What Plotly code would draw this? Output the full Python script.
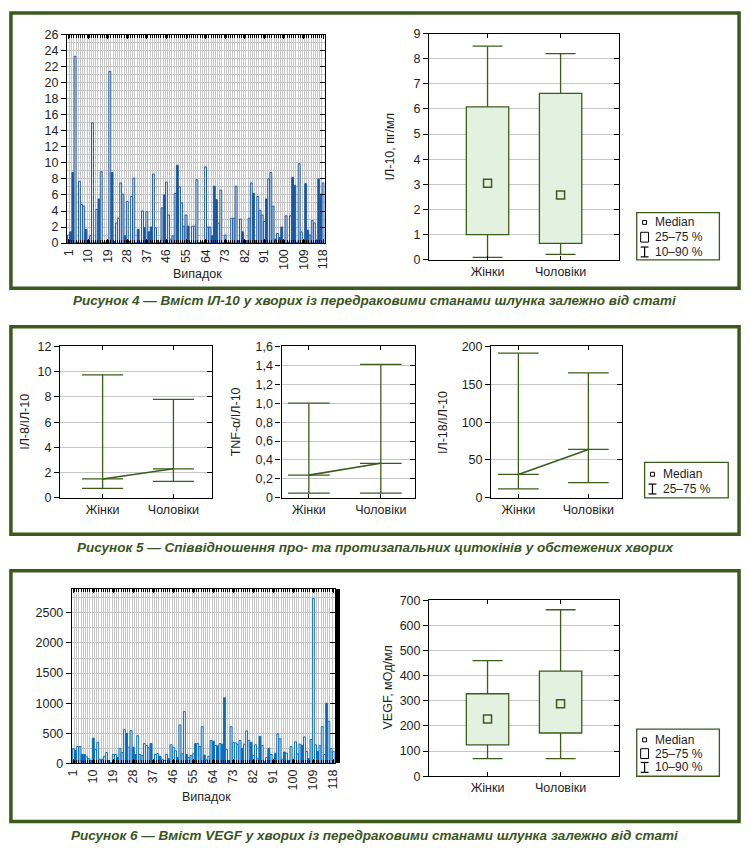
import plotly.graph_objects as go

W, H = 749, 859

# ------------------------------------------------------------------ data
case_numbers = list(range(1, 119))
case_tick_values = list(range(1, 119, 9))  # 1, 10, ..., 118

il10_values = [1.0, 1.4, 8.8, 23.3, 0.1, 7.7, 4.8, 4.6, 1.7, 0.1,
               0.9, 15.0, 0.05, 4.2, 5.5, 8.9, 0.1, 0.1, 0.1, 21.4,
               8.8, 0.2, 2.5, 3.1, 7.5, 6.1, 0.9, 5.2, 0.2, 5.8,
               8.1, 0.05, 1.7, 0.05, 4.0, 1.9, 3.9, 1.4, 2.0, 8.6,
               1.9, 0.3, 0.05, 4.4, 6.0, 7.6, 3.5, 0.5, 0.9, 6.2,
               9.7, 7.0, 5.0, 2.1, 3.5, 2.1, 0.05, 2.1, 2.1, 7.9,
               0.05, 0.15, 0.1, 9.5, 2.0, 2.0, 0.9, 7.1, 5.4, 2.5,
               6.6, 0.05, 1.0, 0.1, 0.05, 3.1, 3.1, 7.1, 0.3, 3.0,
               1.4, 0.2, 0.3, 3.1, 7.5, 6.2, 0.3, 5.8, 4.1, 3.5,
               2.7, 5.5, 8.0, 8.8, 4.6, 0.5, 1.2, 0.7, 2.0, 0.1,
               3.4, 0.1, 3.4, 8.2, 7.2, 0.1, 9.9, 1.4, 0.1, 7.4,
               1.6, 1.0, 2.8, 2.5, 0.4, 8.0, 6.1, 7.5]
il10_filled = [0, 1, 1, 0, 1, 0, 0, 0, 1, 1,
               0, 0, 1, 0, 1, 0, 1, 1, 1, 0,
               1, 1, 0, 0, 0, 0, 1, 0, 1, 0,
               0, 1, 1, 1, 0, 1, 0, 1, 1, 0,
               0, 1, 1, 0, 1, 0, 0, 0, 0, 0,
               1, 0, 0, 0, 0, 1, 1, 0, 0, 0,
               1, 1, 1, 0, 0, 0, 1, 1, 1, 0,
               0, 1, 0, 1, 1, 0, 0, 0, 1, 0,
               1, 1, 1, 0, 0, 1, 1, 0, 0, 0,
               0, 1, 0, 0, 0, 1, 0, 1, 1, 1,
               0, 1, 0, 1, 1, 1, 0, 0, 1, 1,
               1, 0, 0, 0, 1, 1, 1, 0]

vegf_values = [245, 215, 280, 280, 150, 150, 110, 80, 50, 420,
               230, 350, 70, 70, 120, 180, 50, 10, 150, 150,
               100, 250, 180, 560, 500, 270, 545, 270, 150, 460,
               150, 130, 330, 300, 260, 330, 50, 150, 165, 120,
               70, 50, 150, 80, 310, 270, 210, 100, 640, 160,
               860, 150, 100, 130, 160, 330, 330, 280, 610, 140,
               60, 120, 380, 370, 300, 290, 330, 320, 1090, 230,
               50, 610, 350, 340, 320, 380, 250, 320, 540, 380,
               350, 130, 310, 80, 450, 300, 30, 100, 250, 150,
               60, 170, 490, 410, 70, 190, 170, 50, 280, 70,
               360, 160, 320, 300, 440, 200, 80, 400, 2740, 310,
               200, 300, 610, 150, 1000, 700, 250, 200]
vegf_filled = [0, 1, 0, 0, 1, 1, 0, 0, 1, 1,
               0, 0, 0, 0, 0, 0, 1, 1, 0, 0,
               1, 0, 0, 0, 1, 0, 0, 1, 1, 0,
               0, 0, 0, 0, 0, 1, 1, 0, 0, 1,
               0, 0, 0, 1, 0, 0, 0, 1, 0, 0,
               0, 1, 0, 0, 0, 1, 0, 0, 0, 1,
               0, 0, 0, 1, 0, 1, 0, 1, 1, 0,
               1, 0, 0, 0, 0, 0, 1, 0, 0, 0,
               1, 0, 0, 0, 1, 0, 1, 0, 1, 0,
               1, 1, 0, 0, 0, 1, 0, 1, 0, 1,
               0, 0, 0, 1, 0, 0, 1, 0, 0, 0,
               1, 0, 0, 0, 1, 0, 0, 0]

groups = ["Жінки", "Чоловіки"]

il10_p10 = [0.1, 0.22]
il10_q1 = [1.0, 0.65]
il10_median = [3.05, 2.58]
il10_q3 = [6.08, 6.62]
il10_p90 = [8.5, 8.2]

vegf_p10 = [70, 70]
vegf_q1 = [125, 172]
vegf_median = [228, 288]
vegf_q3 = [328, 418]
vegf_p90 = [460, 662]

il8_ratio_q1 = [0.75, 1.3]
il8_ratio_median = [1.5, 2.3]
il8_ratio_q3 = [9.75, 7.8]

tnf_ratio_q1 = [0.05, 0.05]
tnf_ratio_median = [0.24, 0.365]
tnf_ratio_q3 = [1.0, 1.41]

il18_ratio_q1 = [12, 20]
il18_ratio_median = [31, 64]
il18_ratio_q3 = [191, 165]

tnf_tick_values = [0, 0.2, 0.4, 0.6, 0.8, 1.0, 1.2, 1.4, 1.6]
tnf_tick_labels = ["0", "0,2", "0,4", "0,6", "0,8", "1,0", "1,2", "1,4", "1,6"]

captions = [
    "Рисунок 4 — Вміст ІЛ-10 у хворих із передраковими станами шлунка залежно від статі",
    "Рисунок 5 — Співвідношення про- та протизапальних цитокінів у обстежених хворих",
    "Рисунок 6 — Вміст VEGF у хворих із передраковими станами шлунка залежно від статі",
]

# ------------------------------------------------------------------ style
FONT = "Liberation Sans, Arial, sans-serif"
TXT = "#1e1e1e"
GREEN = "#3b5a1c"
BOX_LINE = "#3a5e1a"
BOX_FILL = "#e3f1e1"
GRID = "#c6c6c6"
BLUE1 = "#1c5aa3"
BLUE6 = "#0a6fbf"


def xd(a, b):
    return [a / W, b / W]


def yd(top, bottom):
    return [1 - bottom / H, 1 - top / H]


def px(a):
    return a / W


def py(b):
    return 1 - b / H


fig = go.Figure()
layout = dict(
    width=W, height=H, margin=dict(l=0, r=0, t=0, b=0),
    paper_bgcolor="white", plot_bgcolor="white", showlegend=False,
    font=dict(family=FONT, size=12, color=TXT),
)
shapes = []
annotations = []


def axis_pair(n, xdom, ydom, xrange, yrange, ytickvals, yticktext=None,
              xtickvals=None, xticktext=None, xangle=0, minor_x=False,
              minor_y=None, right_line_width=None):
    sx = "" if n == 1 else str(n)
    xa = dict(domain=xdom, range=xrange, anchor="y" + sx, showline=True,
              linecolor="black", linewidth=1.2, mirror="ticks",
              ticks="inside", ticklen=4, tickcolor="black",
              tickvals=xtickvals, ticktext=xticktext, tickangle=xangle,
              showgrid=False, zeroline=False,
              tickfont=dict(family=FONT, size=12.5, color=TXT))
    if minor_x:
        xa["minor"] = dict(tickmode="linear", tick0=0.5, dtick=1,
                           ticks="inside", ticklen=3, tickcolor="black",
                           showgrid=True, gridcolor=GRID, gridwidth=1.2)
    ya = dict(domain=ydom, range=yrange, anchor="x" + sx, showline=True,
              linecolor="black", linewidth=1.2, mirror=True,
              ticks="outside", ticklen=5, tickcolor="black",
              tickvals=ytickvals, ticktext=yticktext,
              showgrid=True, gridcolor=GRID, gridwidth=1.2, zeroline=False,
              tickfont=dict(family=FONT, size=12.5, color=TXT))
    if minor_y is not None:
        ya["minor"] = dict(tickmode="linear", tick0=0, dtick=minor_y,
                           showgrid=True, gridcolor=GRID, gridwidth=1.2)
    layout["xaxis" + sx] = xa
    layout["yaxis" + sx] = ya
    rn = str(n + 20)
    ra = dict(overlaying="y" + sx, side="right", anchor="x" + sx,
              range=yrange, tickvals=ytickvals, ticks="inside", ticklen=5,
              tickcolor="black", showticklabels=False, showgrid=False,
              zeroline=False, showline=right_line_width is not None,
              linecolor="black", linewidth=right_line_width or 1)
    layout["yaxis" + rn] = ra
    fig.add_trace(go.Scatter(x=[None], y=[None], xaxis="x" + sx,
                             yaxis="y" + rn, showlegend=False,
                             hoverinfo="skip"))
    return "x" + sx, "y" + sx


def bar_chart(n, xdom, ydom, xrange, yrange, yticks, minor_y, values, filled,
              color, right_line_width=None):
    xa, ya = axis_pair(n, xdom, ydom, xrange, yrange, yticks,
                       xtickvals=case_tick_values,
                       xticktext=[str(v) for v in case_tick_values],
                       xangle=-90, minor_x=True, minor_y=minor_y,
                       right_line_width=right_line_width)
    fills = [color if f else "white" for f in filled]
    fig.add_trace(go.Bar(x=case_numbers, y=values, width=0.85,
                         marker=dict(color=fills,
                                     line=dict(color=color, width=1.0)),
                         xaxis=xa, yaxis=ya))


def box_chart(n, xdom, ydom, yrange, yticks, p10, q1, med, q3, p90):
    pos = [i + 1 for i in range(len(groups))]
    xa, ya = axis_pair(n, xdom, ydom, [0.2, 2.8], yrange, yticks,
                       xtickvals=pos, xticktext=groups)
    fig.add_trace(go.Bar(x=pos, y=[b - a for a, b in zip(q1, q3)], base=q1,
                         width=0.58,
                         marker=dict(color=BOX_FILL,
                                     line=dict(color=BOX_LINE, width=1.3)),
                         xaxis=xa, yaxis=ya))
    cw = 0.205
    xw, yw = [], []
    for i, p in enumerate(pos):
        xw += [p, p, None, p - cw, p + cw, None, p, p, None, p - cw, p + cw, None]
        yw += [q3[i], p90[i], None, p90[i], p90[i], None,
               q1[i], p10[i], None, p10[i], p10[i], None]
    fig.add_trace(go.Scatter(x=xw, y=yw, mode="lines",
                             line=dict(color=BOX_LINE, width=1.3),
                             xaxis=xa, yaxis=ya, hoverinfo="skip"))
    fig.add_trace(go.Scatter(x=pos, y=med, mode="markers",
                             marker=dict(symbol="square", size=8,
                                         color=BOX_FILL,
                                         line=dict(color=BOX_LINE, width=1.5)),
                             xaxis=xa, yaxis=ya))


def ratio_chart(n, xdom, ydom, xrange, yrange, yticks, ytext, lo, med, hi):
    pos = [i + 1 for i in range(len(groups))]
    xa, ya = axis_pair(n, xdom, ydom, xrange, yrange, yticks, ytext,
                       xtickvals=pos, xticktext=groups)
    cw = 0.29
    xw, yw = [], []
    for i, p in enumerate(pos):
        xw += [p, p, None]
        yw += [lo[i], hi[i], None]
        for v in (lo[i], med[i], hi[i]):
            xw += [p - cw, p + cw, None]
            yw += [v, v, None]
    fig.add_trace(go.Scatter(x=xw, y=yw, mode="lines",
                             line=dict(color=BOX_LINE, width=1.3),
                             xaxis=xa, yaxis=ya, hoverinfo="skip"))
    fig.add_trace(go.Scatter(x=pos, y=med, mode="lines",
                             line=dict(color=BOX_LINE, width=1.6),
                             xaxis=xa, yaxis=ya, hoverinfo="skip"))


def ylabel(text, x, y):
    annotations.append(dict(text=text, x=px(x), y=py(y), xref="paper",
                            yref="paper", showarrow=False, textangle=-90,
                            xanchor="center", yanchor="middle",
                            font=dict(family=FONT, size=12.5, color=TXT)))


def label(text, x, y, size=12.5, anchor="left", color=TXT):
    annotations.append(dict(text=text, x=px(x), y=py(y), xref="paper",
                            yref="paper", showarrow=False, xanchor=anchor,
                            yanchor="middle",
                            font=dict(family=FONT, size=size, color=color)))


def rect(x0, y0, x1, y1, color, width, fill=None):
    shapes.append(dict(type="rect", xref="paper", yref="paper",
                       x0=px(x0), x1=px(x1), y0=py(y1), y1=py(y0),
                       line=dict(color=color, width=width),
                       fillcolor=fill or "rgba(0,0,0,0)"))


def seg(x0, y0, x1, y1, color="black", width=1.2):
    shapes.append(dict(type="line", xref="paper", yref="paper",
                       x0=px(x0), x1=px(x1), y0=py(y0), y1=py(y1),
                       line=dict(color=color, width=width)))


def legend_box(x0, y0, x1, y1, rows, whisker_label):
    rect(x0, y0, x1, y1, GREEN, 1.3)
    sx = x0 + 8
    tx = x0 + 17
    r = rows
    rect(sx - 2, r[0] - 2, sx + 2, r[0] + 2, "black", 1)
    label("Median", tx, r[0], size=12)
    k = 1
    if len(r) == 3:
        rect(sx - 4, r[1] - 5, sx + 4, r[1] + 5, "black", 1)
        label("25–75 %", tx, r[1], size=12)
        k = 2
    seg(sx, r[k] - 5, sx, r[k] + 5)
    seg(sx - 4, r[k] - 5, sx + 4, r[k] - 5)
    seg(sx - 4, r[k] + 5, sx + 4, r[k] + 5)
    label(whisker_label, tx, r[k], size=12)


# ------------------------------------------------------------------ panel 1
bar_chart(1, xd(62, 324), yd(28, 240), [0.3, 118.8], [0, 26],
          list(range(0, 27, 2)), 1, il10_values, il10_filled, BLUE1)
label("Випадок", 195, 271, size=12.5, anchor="center")
box_chart(2, xd(430, 623), yd(27, 257), [0, 9], list(range(0, 10)),
          il10_p10, il10_q1, il10_median, il10_q3, il10_p90)
ylabel("ІЛ-10, пг/мл", 390, 142)
legend_box(641, 209, 725, 257, [219, 234, 249], "10–90 %")

# ------------------------------------------------------------------ panel 2
ratio_chart(3, xd(55, 209), yd(345, 499), [0.4, 2.54], [0, 12],
            list(range(0, 13, 2)), None,
            il8_ratio_q1, il8_ratio_median, il8_ratio_q3)
ratio_chart(4, xd(280, 416), yd(345, 499), [0.62, 2.48], [0, 1.6],
            tnf_tick_values, tnf_tick_labels,
            tnf_ratio_q1, tnf_ratio_median, tnf_ratio_q3)
ratio_chart(5, xd(493, 626), yd(345, 499), [0.61, 2.48], [0, 200],
            list(range(0, 201, 50)), None,
            il18_ratio_q1, il18_ratio_median, il18_ratio_q3)
ylabel("ІЛ-8/ІЛ-10", 19, 422)
ylabel("TNF-α/ІЛ-10", 234, 422)
ylabel("ІЛ-18/ІЛ-10", 444, 422)
legend_box(649, 463, 734, 499, [475, 490], "25–75 %")

# ------------------------------------------------------------------ panel 3
bar_chart(6, xd(67, 334), yd(592, 769), [0.4, 118.6], [0, 2890],
          list(range(0, 2501, 500)), 250, vegf_values, vegf_filled, BLUE6,
          right_line_width=5)
label("Випадок", 204, 803, size=12.5, anchor="center")
box_chart(7, xd(430, 623), yd(603, 782), [0, 700], list(range(0, 701, 100)),
          vegf_p10, vegf_q1, vegf_median, vegf_q3, vegf_p90)
ylabel("VEGF, мОд/мл", 388, 692)
legend_box(641, 734, 725, 782, [745, 759, 773], "10–90 %")

# ------------------------------------------------------------------ frames & captions
rect(5, 6, 745, 286, GREEN, 3.5)
rect(5, 325, 745, 536, GREEN, 3.5)
rect(5, 573, 745, 828, GREEN, 3.5)
for text, y in zip(captions, [298, 549, 842]):
    annotations.append(dict(
        text="<b><i>" + text + "</i></b>", x=0.5, y=py(y), xref="paper",
        yref="paper", showarrow=False, xanchor="center", yanchor="middle",
        font=dict(family=FONT, size=13.5, color="#3a5520")))

layout["shapes"] = shapes
layout["annotations"] = annotations
layout["barmode"] = "overlay"
fig.update_layout(**layout)
fig.write_html("out.html", config={"displayModeBar": False},
               post_script="document.body.style.margin='0';"
                           "document.body.style.overflow='hidden';")
